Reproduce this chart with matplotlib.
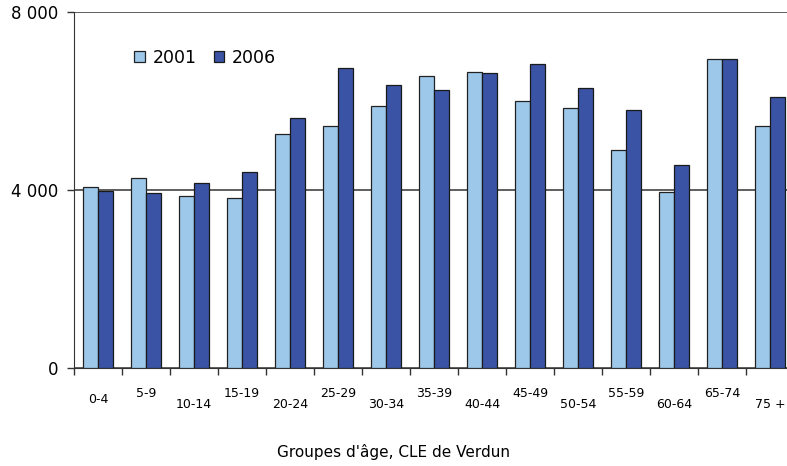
import matplotlib
matplotlib.use('Agg')
import matplotlib.pyplot as plt
import matplotlib.transforms as mtransforms
from matplotlib.ticker import FuncFormatter
import numpy as np

# Données : population par groupe d'âge
groupes = ['0-4', '5-9', '10-14', '15-19', '20-24', '25-29', '30-34', '35-39',
           '40-44', '45-49', '50-54', '55-59', '60-64', '65-74', '75 +']
pop_2001 = [4060, 4270, 3860, 3820, 5265, 5430, 5880, 6575, 6665, 6005,
            5840, 4890, 3950, 6950, 5430]
pop_2006 = [3990, 3940, 4150, 4400, 5630, 6745, 6370, 6250, 6625, 6835,
            6290, 5805, 4570, 6950, 6090]

couleur_2001 = '#9DC8EA'
couleur_2006 = '#3A53A4'

fig = plt.figure(figsize=(7.87, 4.66), dpi=100)
ax = fig.add_axes([0.094, 0.2103, 0.915, 0.7637])

x = np.arange(len(groupes))
w = 0.31
ax.bar(x - w / 2, pop_2001, w, color=couleur_2001, edgecolor='#222222', linewidth=0.9,
       label='2001', zorder=3)
ax.bar(x + w / 2, pop_2006, w, color=couleur_2006, edgecolor='#1a1a1a', linewidth=0.9,
       label='2006', zorder=3)

ax.set_xlim(-0.5, len(groupes) - 0.5)
ax.set_ylim(0, 8000)

# Axe Y
ax.set_yticks([0, 4000, 8000])
ax.yaxis.set_major_formatter(FuncFormatter(lambda v, p: f'{int(v):,}'.replace(',', ' ')))
ax.tick_params(axis='y', labelsize=12, length=5, width=1, color='#333333', pad=6)
ax.yaxis.grid(True, color='#333333', linewidth=1.1, zorder=0)

# Axe X : graduations entre les groupes, étiquettes décalées
ax.set_xticks(x)
ax.set_xticklabels(groupes, fontsize=9)
ax.set_xticks(np.arange(len(groupes) + 1) - 0.5, minor=True)
ax.tick_params(axis='x', which='major', length=0, pad=14)
ax.tick_params(axis='x', which='minor', length=5, width=1, color='#333333')
for i, lab in enumerate(ax.get_xticklabels()):
    if i % 2 == 0:
        dy = -4 / 72 if i == 0 else -7.5 / 72
        lab.set_transform(lab.get_transform() + mtransforms.ScaledTranslation(0, dy, fig.dpi_scale_trans))

ax.set_xlabel("Groupes d'âge, CLE de Verdun", fontsize=11)
ax.xaxis.set_label_coords(0.444, -0.213)

for s in ['top', 'right']:
    ax.spines[s].set_visible(False)
ax.spines['left'].set_color('#333333')
ax.spines['bottom'].set_color('#333333')

ax.legend(loc='upper left', bbox_to_anchor=(0.062, 0.94), ncol=2, frameon=False,
          fontsize=12.5, handlelength=0.6, handleheight=0.6, handletextpad=0.45,
          columnspacing=1.0)

plt.savefig('out.png', dpi=100)
plt.close()
